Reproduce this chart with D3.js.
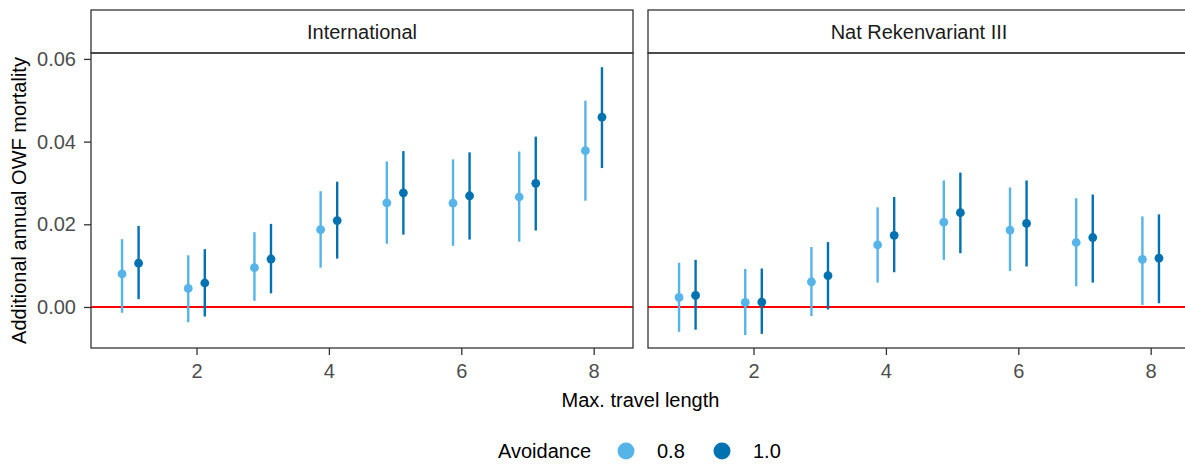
<!DOCTYPE html>
<html>
<head>
<meta charset="utf-8">
<script src="https://cdn.jsdelivr.net/npm/d3@7"></script>
<style>
  body { margin: 0; background: #fff; }
  svg { display: block; font-family: "Liberation Sans", Arial, sans-serif; }
</style>
</head>
<body>
<div id="chart"></div>
<script>
const travelLength = [1, 2, 3, 4, 5, 6, 7, 8];
const facets = ['International', 'Nat Rekenvariant III'];
const avoidanceLevels = ['0.8', '1.0'];
const yTicks = [0, 0.02, 0.04, 0.06];
const xTicks = [2, 4, 6, 8];

// International
const intMean08 = [0.0080, 0.0045, 0.0095, 0.0187, 0.0252, 0.0251, 0.0266, 0.0378];
const intLow08 = [-0.0014, -0.0037, 0.0015, 0.0095, 0.0153, 0.0148, 0.0158, 0.0257];
const intHigh08 = [0.0164, 0.0125, 0.0181, 0.0280, 0.0352, 0.0357, 0.0376, 0.0499];
const intMean10 = [0.0106, 0.0058, 0.0116, 0.0209, 0.0276, 0.0269, 0.0299, 0.0459];
const intLow10 = [0.0019, -0.0023, 0.0033, 0.0117, 0.0175, 0.0163, 0.0185, 0.0336];
const intHigh10 = [0.0196, 0.0140, 0.0201, 0.0303, 0.0377, 0.0374, 0.0412, 0.0580];

// Nat Rekenvariant III
const natMean08 = [0.0023, 0.0011, 0.0061, 0.0150, 0.0205, 0.0186, 0.0156, 0.0115];
const natLow08 = [-0.0060, -0.0068, -0.0022, 0.0059, 0.0114, 0.0087, 0.0050, 0.0005];
const natHigh08 = [0.0107, 0.0092, 0.0145, 0.0241, 0.0306, 0.0289, 0.0263, 0.0219];
const natMean10 = [0.0028, 0.0012, 0.0076, 0.0173, 0.0228, 0.0202, 0.0168, 0.0118];
const natLow10 = [-0.0055, -0.0065, -0.0006, 0.0084, 0.0130, 0.0098, 0.0059, 0.0009];
const natHigh10 = [0.0114, 0.0093, 0.0157, 0.0266, 0.0325, 0.0306, 0.0272, 0.0224];

const colors = { '0.8': '#56B4E9', '1.0': '#0072B2' };
const dodge = { '0.8': -0.125, '1.0': 0.125 };

const series = (facet, avoidance, mean, low, high) =>
  travelLength.map((t, i) => ({ facet, avoidance, t, mean: mean[i], low: low[i], high: high[i] }));

const data = [
  { facet: facets[0], rows: series(facets[0], '0.8', intMean08, intLow08, intHigh08).concat(series(facets[0], '1.0', intMean10, intLow10, intHigh10)) },
  { facet: facets[1], rows: series(facets[1], '0.8', natMean08, natLow08, natHigh08).concat(series(facets[1], '1.0', natMean10, natLow10, natHigh10)) }
];

const width = 1185;
const height = 464;
const panel = { top: 53, bottom: 348, width: 542, gap: 15, left: 91 };
const stripTop = 10;
const ink = '#333333';
const fontSize = 20;

const svg = d3.select('#chart')
  .append('svg')
  .attr('width', width)
  .attr('height', height);

const y = d3.scaleLinear()
  .domain([-0.00992, 0.06143])
  .range([panel.bottom, panel.top]);

const yAxis = d3.axisLeft(y)
  .tickValues(yTicks)
  .tickSize(7)
  .tickPadding(8)
  .tickFormat(d3.format('.2f'));

svg.append('g')
  .attr('class', 'yaxis')
  .attr('transform', `translate(${panel.left},0)`)
  .call(yAxis)
  .call(g => g.select('.domain').remove());

data.forEach((f, i) => {
  const x0 = panel.left + i * (panel.width + panel.gap);
  const x = d3.scaleLinear()
    .domain([0.406, 8.594])
    .range([x0, x0 + panel.width]);

  const xAxis = d3.axisBottom(x)
    .tickValues(xTicks)
    .tickSize(7)
    .tickPadding(9)
    .tickFormat(d3.format('d'));

  svg.append('g')
    .attr('class', 'xaxis')
    .attr('transform', `translate(0,${panel.bottom})`)
    .call(xAxis)
    .call(g => g.select('.domain').remove());

  // strip
  svg.append('rect')
    .attr('x', x0)
    .attr('y', stripTop)
    .attr('width', panel.width)
    .attr('height', panel.top - stripTop)
    .attr('fill', '#fff')
    .attr('stroke', ink)
    .attr('stroke-width', 1.3);

  svg.append('text')
    .attr('x', x0 + panel.width / 2)
    .attr('y', (stripTop + panel.top) / 2)
    .attr('dy', '0.35em')
    .attr('text-anchor', 'middle')
    .attr('font-size', fontSize)
    .attr('fill', '#1A1A1A')
    .text(f.facet);

  const chart = svg.append('g');

  chart.append('line')
    .attr('x1', x0)
    .attr('x2', x0 + panel.width)
    .attr('y1', y(0))
    .attr('y2', y(0))
    .attr('stroke', '#FF0000')
    .attr('stroke-width', 2);

  chart.selectAll('line.err')
    .data(f.rows)
    .enter()
    .append('line')
    .attr('class', 'err')
    .attr('x1', d => x(d.t + dodge[d.avoidance]))
    .attr('x2', d => x(d.t + dodge[d.avoidance]))
    .attr('y1', d => y(d.low))
    .attr('y2', d => y(d.high))
    .attr('stroke', d => colors[d.avoidance])
    .attr('stroke-width', 2.4);

  chart.selectAll('circle')
    .data(f.rows)
    .enter()
    .append('circle')
    .attr('cx', d => x(d.t + dodge[d.avoidance]))
    .attr('cy', d => y(d.mean))
    .attr('r', 4.4)
    .attr('fill', d => colors[d.avoidance]);

  // panel border
  svg.append('rect')
    .attr('x', x0)
    .attr('y', panel.top)
    .attr('width', panel.width)
    .attr('height', panel.bottom - panel.top)
    .attr('fill', 'none')
    .attr('stroke', ink)
    .attr('stroke-width', 1.3);
});

svg.selectAll('.xaxis text, .yaxis text')
  .attr('font-size', fontSize)
  .attr('font-family', '"Liberation Sans", Arial, sans-serif')
  .attr('fill', '#4D4D4D');
svg.selectAll('.xaxis line, .yaxis line')
  .attr('stroke', ink)
  .attr('stroke-width', 1.3);

// axis titles
const fullRight = panel.left + 2 * panel.width + panel.gap;
svg.append('text')
  .attr('x', (panel.left + fullRight) / 2)
  .attr('y', 407)
  .attr('text-anchor', 'middle')
  .attr('font-size', fontSize)
  .attr('fill', '#000')
  .text('Max. travel length');

svg.append('text')
  .attr('transform', `translate(26,${(panel.top + panel.bottom) / 2}) rotate(-90)`)
  .attr('text-anchor', 'middle')
  .attr('font-size', fontSize)
  .attr('fill', '#000')
  .text('Additional annual OWF mortality');

// legend
const legend = svg.append('g').attr('transform', 'translate(498,458)');
legend.append('text')
  .attr('font-size', fontSize)
  .attr('fill', '#000')
  .text('Avoidance');

const keys = legend.selectAll('g.key')
  .data(avoidanceLevels)
  .enter()
  .append('g')
  .attr('class', 'key')
  .attr('transform', (d, i) => `translate(${128 + i * 96},0)`);

keys.append('circle')
  .attr('cx', 0)
  .attr('cy', -7)
  .attr('r', 8.5)
  .attr('fill', d => colors[d]);

keys.append('text')
  .attr('x', 31)
  .attr('font-size', fontSize)
  .attr('fill', '#000')
  .text(d => d);
</script>
</body>
</html>
